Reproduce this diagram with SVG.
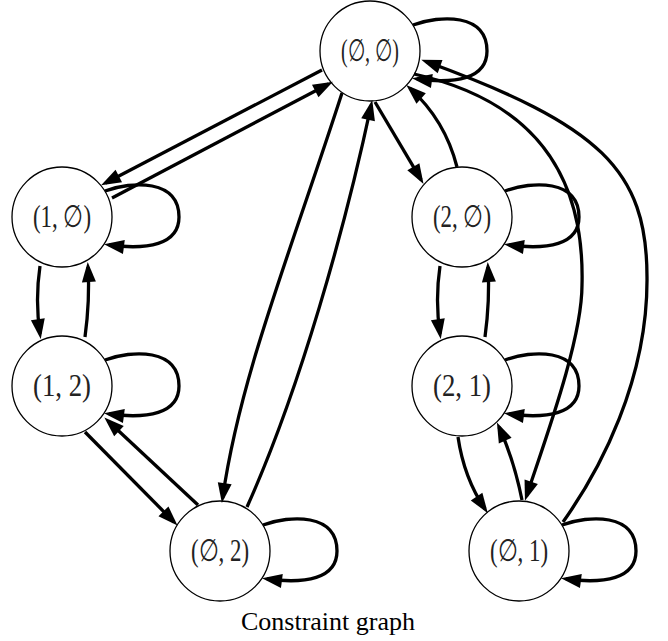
<svg xmlns="http://www.w3.org/2000/svg" width="668" height="641" viewBox="0 0 668 641">
<style>
.node circle{fill:#fff;stroke:#000;stroke-width:1.3}
.node text{font-family:"Liberation Serif","DejaVu Serif",serif;font-size:31px;text-anchor:middle;fill:#222}
.edge{fill:none;stroke:#000;stroke-width:3.3;marker-end:url(#ah)}
.cap{font-family:"Liberation Serif","Times New Roman",serif;font-size:26px;text-anchor:middle;fill:#000}
</style>
<defs>
<marker id="ah" markerUnits="userSpaceOnUse" markerWidth="20" markerHeight="14" refX="15" refY="7" orient="auto" overflow="visible">
<path d="M0,0 L20,7 L0,14 z" fill="#000"/>
</marker>
</defs>
<rect width="668" height="641" fill="#fff"/>
<g id="nodes">
<g id="n-ee" class="node"><circle cx="370" cy="51" r="50"/><text x="370" y="61" textLength="58" lengthAdjust="spacingAndGlyphs">(∅, ∅)</text></g>
<g id="n-1e" class="node"><circle cx="62" cy="217" r="50"/><text x="62" y="227" textLength="58" lengthAdjust="spacingAndGlyphs">(1, ∅)</text></g>
<g id="n-12" class="node"><circle cx="62" cy="386" r="50"/><text x="62" y="396" textLength="58" lengthAdjust="spacingAndGlyphs">(1, 2)</text></g>
<g id="n-e2" class="node"><circle cx="220" cy="551" r="50"/><text x="220" y="561" textLength="58" lengthAdjust="spacingAndGlyphs">(∅, 2)</text></g>
<g id="n-2e" class="node"><circle cx="462" cy="217" r="50"/><text x="462" y="227" textLength="58" lengthAdjust="spacingAndGlyphs">(2, ∅)</text></g>
<g id="n-21" class="node"><circle cx="462" cy="386" r="50"/><text x="462" y="396" textLength="58" lengthAdjust="spacingAndGlyphs">(2, 1)</text></g>
<g id="n-e1" class="node"><circle cx="519" cy="551" r="50"/><text x="519" y="561" textLength="58" lengthAdjust="spacingAndGlyphs">(∅, 1)</text></g>
</g>
<g id="connectors">
<path class="edge" d="M322,70 L105.5,183"/>
<path class="edge" d="M112,198 L328.5,84"/>
<path class="edge" d="M40,266 Q35,300 40,334"/>
<path class="edge" d="M85,337 Q90,300 88,267"/>
<path class="edge" d="M85,432 L174,522"/>
<path class="edge" d="M198,505 L108,421"/>
<path class="edge" d="M342,93 C290,254 240,376 222.6,498"/>
<path class="edge" d="M247,507 C300,389 345,228 371.2,105"/>
<path class="edge" d="M375,102 L421,179.6"/>
<path class="edge" d="M457,167 Q445,120 410,88.4"/>
<path class="edge" d="M440,266 Q435,300 440,334"/>
<path class="edge" d="M485,337 Q490,300 488,267"/>
<path class="edge" d="M458,437 Q464,478 485,509"/>
<path class="edge" d="M522,500 Q514,460 499,427"/>
<path class="edge" d="M414,74 C530,100 585,170 582,285 C582,340 545,440 526.5,496"/>
<path class="edge" d="M563,522 C600,470 648,380 647,277 C647,170 600,125 426,61.5"/>
<path class="edge" d="M413,25 C440,15 487,13 487,51 C487,79 455,84 417,79"/>
<path class="edge" d="M105,191 C132,181 179,179 179,217 C179,245 147,250 109,245"/>
<path class="edge" d="M105,360 C132,350 179,348 179,386 C179,414 147,419 109,414"/>
<path class="edge" d="M263,525 C290,515 337,513 337,551 C337,579 305,584 267,579"/>
<path class="edge" d="M505,191 C532,181 579,179 579,217 C579,245 547,250 509,245"/>
<path class="edge" d="M505,360 C532,350 579,348 579,386 C579,414 547,419 509,414"/>
<path class="edge" d="M562,525 C589,515 636,513 636,551 C636,579 604,584 566,579"/>
</g>
<text class="cap" x="328" y="630">Constraint graph</text>
</svg>
